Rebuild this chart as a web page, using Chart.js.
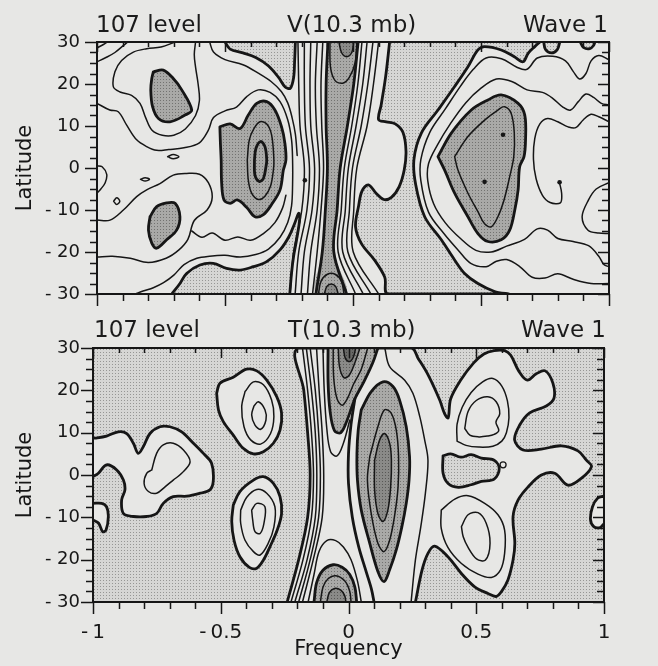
<!DOCTYPE html>
<html>
<head>
<meta charset="utf-8">
<script src="https://cdn.jsdelivr.net/npm/chart.js@4.4.1/dist/chart.umd.min.js"></script>
<style>
  html, body { margin: 0; padding: 0; }
  body { width: 658px; height: 666px; background: #e7e7e5; position: relative; overflow: hidden;
         font-family: "DejaVu Sans", sans-serif; color: #1b1b1b; }
  canvas { position: absolute; left: 0; }
  #top { top: 0; }
  #bot { top: 300px; }
  .hd { position: absolute; font-size: 23px; line-height: 23px; white-space: pre; }
</style>
</head>
<body>
<canvas id="top" width="658" height="320"></canvas>
<canvas id="bot" width="658" height="366"></canvas>
<div class="hd" style="left:96px;top:12.5px">107 level</div>
<div class="hd" style="left:287px;top:12.5px">V(10.3 mb)</div>
<div class="hd" style="right:50px;top:12.5px">Wave 1</div>
<div class="hd" style="left:94px;top:317.5px">107 level</div>
<div class="hd" style="left:288px;top:317.5px">T(10.3 mb)</div>
<div class="hd" style="right:52px;top:317.5px">Wave 1</div>
<script>
// axes
const freqTicks = [-1, -0.5, 0, 0.5, 1];
const freqLabels = ['-\u20091', '-\u20090.5', '0', '0.5', '1'];
const freqMinor = [-0.9, -0.8, -0.7, -0.6, -0.4, -0.3, -0.2, -0.1, 0.1, 0.2, 0.3, 0.4, 0.6, 0.7, 0.8, 0.9];
const latTicks = [-30, -20, -10, 0, 10, 20, 30];
const latLabels = ['- 30', '- 20', '- 10', '0', '10', '20', '30'];
const latMinor = [-27.5, -25, -22.5, -17.5, -15, -12.5, -7.5, -5, -2.5, 2.5, 5, 7.5, 12.5, 15, 17.5, 22.5, 25, 27.5];

// band lines are given as frequency at these latitudes
const bandLat = [30, 20, 10, 0, -10, -20, -30];

// ---- V(10.3 mb) panel: contours as [frequency, latitude] ----
const vBandL1 = [-0.215, -0.212, -0.207, -0.19, -0.2, -0.232, -0.246];
const vBandL2 = [-0.19, -0.19, -0.186, -0.17, -0.18, -0.212, -0.226];
const vBandL3 = [-0.165, -0.168, -0.165, -0.15, -0.16, -0.19, -0.203];
const vBandL4 = [-0.14, -0.147, -0.143, -0.131, -0.14, -0.165, -0.178];
const vBandL5 = [-0.118, -0.125, -0.122, -0.115, -0.125, -0.14, -0.158];
const vDarkL = [-0.098, -0.105, -0.105, -0.1, -0.108, -0.12, -0.145];
const vDarkR = [0.02, 0.003, -0.022, -0.05, -0.062, -0.075, -0.025];
const vBandR1 = [0.035, 0.019, -0.005, -0.034, -0.046, -0.058, 0.01];
const vBandR2 = [0.055, 0.038, 0.012, -0.018, -0.03, -0.04, 0.04];
const vBandR3 = [0.078, 0.058, 0.032, -0.002, -0.014, -0.02, 0.07];
const vBandR4 = [0.1, 0.08, 0.055, 0.015, 0.003, 0.001, 0.1];

const vTopU = [[-0.09, 30], [-0.088, 24], [-0.07, 20.8], [-0.04, 20.2], [-0.015, 21.5], [0.008, 25], [0.015, 30]];
const vTopCore = [[-0.055, 30], [-0.045, 27.5], [-0.025, 26.5], [-0.005, 27.5], [0.003, 30]];
const vBotCore1 = [[-0.135, -30], [-0.125, -27], [-0.1, -25.3], [-0.07, -25.3], [-0.045, -27], [-0.035, -30]];
const vBotCore2 = [[-0.112, -30], [-0.102, -28.2], [-0.085, -27.6], [-0.068, -28.2], [-0.058, -30]];

const vStipTop = [[-0.5, 30], [-0.48, 28.3], [-0.43, 27.4], [-0.38, 26.3], [-0.33, 24.3], [-0.29, 21.5], [-0.265, 19.3], [-0.245, 19.0], [-0.232, 21.5], [-0.228, 25.5], [-0.225, 30]];
const vStipR0 = [[0.143, 30], [0.128, 22], [0.11, 15], [0.1, 11.5], [0.13, 11], [0.165, 10.5], [0.195, 8.5], [0.207, 4], [0.2, -0.5], [0.18, -4.5], [0.15, -7], [0.12, -7.5], [0.09, -6], [0.06, -4], [0.035, -5.5], [0.022, -9], [0.01, -14], [0.033, -18], [0.085, -22], [0.124, -26], [0.137, -30]];
const vStipB0 = [[0.605, -30], [0.553, -29.4], [0.488, -27.5], [0.436, -25.1], [0.397, -21.9], [0.345, -17.1], [0.28, -11.6], [0.245, -4], [0.238, 2], [0.267, 8.3], [0.332, 13.8], [0.397, 19.4], [0.449, 24.1], [0.488, 28.1], [0.514, 28.9], [0.579, 28.1], [0.63, 26.5], [0.664, 25.3], [0.684, 27.3], [0.71, 28.9], [0.73, 30]];
const vStipBot = [[-0.708, -30], [-0.676, -27.5], [-0.65, -25.1], [-0.598, -23.1], [-0.546, -22.7], [-0.494, -23.9], [-0.441, -24.3], [-0.389, -23.5], [-0.337, -22.3], [-0.285, -19.5], [-0.25, -16.3], [-0.228, -13.2], [-0.212, -10.8], [-0.208, -12], [-0.22, -17], [-0.232, -21], [-0.24, -25], [-0.247, -30]];
const vStipP1 = [[0.745, 30], [0.752, 28.2], [0.775, 27.4], [0.798, 28.2], [0.808, 30]];
const vStipP2 = [[0.888, 30], [0.9, 28.7], [0.925, 28.4], [0.94, 29.2], [0.945, 30]];

const vMaxA = [[-0.78, 22.9], [-0.741, 23.3], [-0.702, 21.3], [-0.669, 18.6], [-0.63, 13.8], [-0.656, 12.6], [-0.715, 11.0], [-0.76, 11.8], [-0.783, 14.6], [-0.79, 18.6], [-0.786, 21.3]];
const vMaxB = [[-0.793, -11.6], [-0.767, -9.2], [-0.728, -8.3], [-0.695, -8.4], [-0.676, -11.6], [-0.689, -14.8], [-0.728, -17.1], [-0.767, -19.1], [-0.786, -17.9], [-0.799, -14.8]];
const vMaxC = [[-0.52, 9.8], [-0.48, 10.5], [-0.441, 9.4], [-0.409, 12.6], [-0.376, 15.4], [-0.337, 15.8], [-0.305, 13.8], [-0.279, 9.8], [-0.266, 5.9], [-0.262, 1.9], [-0.272, -0.5], [-0.285, -5.2], [-0.318, -8.7], [-0.35, -11.1], [-0.383, -11.6], [-0.415, -9.4], [-0.452, -7.6], [-0.48, -8.4], [-0.504, -7.6], [-0.513, -3.7], [-0.515, 1.9], [-0.518, 6]];
const vMaxC2 = [[-0.413, 1.9], [-0.405, 6.7], [-0.387, 9.4], [-0.363, 11.0], [-0.337, 10.5], [-0.318, 7.9], [-0.309, 1.9], [-0.311, -0.5], [-0.322, -4.3], [-0.344, -6.7], [-0.37, -7.5], [-0.396, -6.0], [-0.409, -2.9]];
const vMaxC3 = [[-0.385, 1.9], [-0.379, 4.7], [-0.361, 6.3], [-0.344, 5.1], [-0.337, 1.9], [-0.34, 0.3], [-0.35, -2.5], [-0.366, -3.2], [-0.383, -1.7]];
const vMaxD = [[0.332, 2.7], [0.384, 8.3], [0.462, 13.8], [0.527, 16.2], [0.579, 17.4], [0.645, 15.4], [0.671, 12.6], [0.674, 6.7], [0.668, 2.7], [0.651, 0.3], [0.645, -5.2], [0.632, -10], [0.612, -14.8], [0.579, -17.1], [0.527, -17.5], [0.488, -15.6], [0.449, -11.6], [0.397, -6.0], [0.358, -0.5]];
const vMaxD2 = [[0.397, 2.7], [0.449, 7.5], [0.514, 11.4], [0.566, 13.8], [0.592, 14.6], [0.618, 13.0], [0.63, 8.3], [0.628, 2.7], [0.612, -2.1], [0.59, -7.6], [0.566, -11.6], [0.54, -14], [0.514, -13.3], [0.488, -10.4], [0.449, -6.0], [0.41, -0.5]];

const vRight1 = [[1.0, 25.8], [0.96, 26.8], [0.93, 25.5], [0.91, 22.5], [0.885, 21.2], [0.86, 23], [0.83, 25.5], [0.78, 26.6], [0.72, 26.2], [0.68, 23.5], [0.64, 24], [0.58, 26], [0.52, 26.2], [0.47, 23.5], [0.42, 19.5], [0.36, 14], [0.3, 8.5], [0.265, 2], [0.265, -3], [0.295, -10.5], [0.355, -15.6], [0.41, -19.5], [0.46, -22.7], [0.52, -23.5], [0.56, -22.2], [0.6, -21.8], [0.65, -23.4], [0.7, -26], [0.75, -26.2], [0.8, -25.2], [0.86, -26.5], [0.93, -27.5], [1.0, -27.5]];
const vRight2 = [[1.0, 15], [0.97, 15.4], [0.94, 16.8], [0.91, 17.6], [0.88, 15.8], [0.85, 13.8], [0.82, 14.5], [0.78, 16.6], [0.74, 18], [0.68, 18.6], [0.62, 20.6], [0.56, 21.2], [0.5, 19], [0.44, 15.5], [0.38, 10.5], [0.33, 5.5], [0.295, 1], [0.292, -3], [0.315, -8.5], [0.36, -13], [0.42, -16.8], [0.48, -19.6], [0.54, -20], [0.6, -18.6], [0.67, -17], [0.72, -14.5], [0.76, -14.8], [0.8, -16.8], [0.86, -17.5], [0.92, -18.5], [0.96, -21], [0.98, -23], [1.0, -23.5]];
const vRight3 = [[0.807, -3.6], [0.815, -6], [0.81, -8.3], [0.77, -8.2], [0.74, -6.5], [0.715, -2.5], [0.705, 2], [0.71, 7], [0.73, 10.5], [0.76, 11.8], [0.8, 11], [0.84, 9.8], [0.87, 9.6], [0.9, 11.5], [0.93, 12.8], [0.96, 12.2], [1.0, 11]];
const vRight4 = [[1.0, -3.5], [0.95, -5], [0.92, -7.6], [0.895, -11.6], [0.918, -14.8], [0.96, -15.5], [1.0, -15.6]];

const vLeftC0 = [[-1, 28.6], [-0.975, 29.4], [-0.96, 30]];
const vLeftC1 = [[-1, 25.3], [-0.965, 26.3], [-0.93, 27.5], [-0.9, 29], [-0.88, 30]];
const vLeft1 = [[-1, 15.4], [-0.95, 13.8], [-0.917, 13.4], [-0.884, 10.2], [-0.845, 6.7], [-0.806, 5.1], [-0.767, 4.2], [-0.72, 4.4], [-0.66, 4.8], [-0.6, 6], [-0.565, 9], [-0.545, 12], [-0.5, 13.6], [-0.455, 14.5], [-0.415, 17], [-0.37, 18.6], [-0.324, 18], [-0.285, 15.8], [-0.255, 11.5], [-0.24, 6.7], [-0.236, 1.9], [-0.236, -4], [-0.24, -9], [-0.255, -13], [-0.285, -16.5], [-0.33, -19.3], [-0.38, -20.6], [-0.44, -21.2], [-0.5, -20.8], [-0.56, -21], [-0.61, -21.5], [-0.66, -23], [-0.7, -25.5], [-0.74, -27.3], [-0.78, -28.5], [-0.82, -29.3], [-0.85, -30]];
const vLeft2 = [[-0.695, 30], [-0.75, 28.8], [-0.806, 28.4], [-0.858, 27.6], [-0.904, 25.6], [-0.93, 22.9], [-0.936, 19.3], [-0.91, 18.1], [-0.865, 17.3], [-0.832, 15.4], [-0.81, 12], [-0.785, 9], [-0.745, 7.8], [-0.7, 7.8], [-0.655, 9.3], [-0.615, 12.5], [-0.6, 16], [-0.605, 20], [-0.615, 24], [-0.62, 27], [-0.615, 30]];
const vLeft3 = [[-1, -12.4], [-0.949, -12.4], [-0.897, -10], [-0.845, -6.8], [-0.806, -5.2], [-0.754, -3.7], [-0.702, -1.7], [-0.65, -1.3], [-0.6, -1.5], [-0.565, -3.5], [-0.55, -7], [-0.57, -10], [-0.62, -12.5], [-0.645, -17], [-0.68, -19.5], [-0.73, -21.5], [-0.8, -22.5], [-0.87, -21.5], [-0.94, -21], [-1, -21.2]];
const vLeft4 = [[-0.63, -15], [-0.59, -16.5], [-0.55, -15.5], [-0.5, -17.2], [-0.45, -16.4], [-0.4, -17.2], [-0.35, -15.6], [-0.305, -13], [-0.275, -9.5], [-0.262, -6.5]];
const vLeft5 = [[-0.56, 30], [-0.545, 27.6], [-0.5, 25.8], [-0.43, 24.6], [-0.37, 22.6], [-0.32, 20.6], [-0.28, 18.2], [-0.255, 15.5], [-0.238, 12], [-0.225, 8], [-0.218, 3]];
const vSmall1 = [[-0.724, 2.7], [-0.702, 3.2], [-0.68, 2.7], [-0.702, 2.2]];
const vSmall2 = [[-0.83, -2.7], [-0.812, -2.3], [-0.795, -2.7], [-0.812, -3.1]];
const vSmall3 = [[-0.935, -7.9], [-0.923, -7.1], [-0.911, -7.9], [-0.923, -8.7]];
const vEdgeLoop = [[-1, 0.5], [-0.98, 0.3], [-0.962, -1.5], [-0.968, -3.5], [-0.985, -5], [-1, -6]];
const vDots = [[0.586, 7.9], [0.514, -3.3], [0.807, -3.4], [-0.188, -2.9]];

// ---- T(10.3 mb) panel ----
const tBandL1 = [-0.196, -0.175, -0.16, -0.15, -0.16, -0.195, -0.24];
const tBandL2 = [-0.18, -0.16, -0.145, -0.137, -0.145, -0.178, -0.225];
const tBandL3 = [-0.165, -0.145, -0.13, -0.124, -0.13, -0.162, -0.21];
const tBandL4 = [-0.15, -0.13, -0.117, -0.11, -0.117, -0.15, -0.195];
const tBandL5 = [-0.125, -0.115, -0.103, -0.097, -0.103, -0.138, -0.18];

const tWhiteMain = [[0.246, 30], [0.272, 27.6], [0.311, 23.7], [0.357, 17.7], [0.376, 14.5], [0.39, 13.5], [0.4, 18], [0.44, 22.5], [0.49, 26.5], [0.53, 28.6], [0.57, 29.4], [0.611, 29.4], [0.635, 28.3], [0.666, 24.6], [0.7, 22.4], [0.735, 23.9], [0.77, 24.6], [0.8, 21.7], [0.804, 18.1], [0.774, 16.3], [0.709, 14.7], [0.67, 11.8], [0.65, 8.3], [0.683, 5.9], [0.755, 6.1], [0.833, 6.9], [0.898, 5.7], [0.931, 3.5], [0.951, 2.0], [0.911, -0.8], [0.859, -2.4], [0.807, 0.4], [0.755, 0], [0.703, -2.8], [0.664, -5.9], [0.644, -9.8], [0.651, -16.1], [0.644, -20.1], [0.624, -24.8], [0.598, -27.6], [0.578, -28.7], [0.546, -28], [0.494, -26.4], [0.441, -23.2], [0.389, -19.3], [0.337, -16.8], [0.311, -18.5], [0.288, -22.4], [0.262, -30]];
const tWhiteA = [[-1, 8.7], [-0.992, 8.7], [-0.947, 9.2], [-0.901, 10.2], [-0.868, 9.8], [-0.842, 7.5], [-0.823, 5.1], [-0.803, 6.7], [-0.777, 9.8], [-0.738, 11.4], [-0.699, 11.4], [-0.653, 10.2], [-0.607, 7.5], [-0.568, 5.1], [-0.536, 2.8], [-0.529, -1.2], [-0.542, -3.5], [-0.581, -4.3], [-0.633, -5.0], [-0.686, -5.1], [-0.725, -6.7], [-0.751, -9.1], [-0.79, -9.8], [-0.842, -9.8], [-0.881, -9.1], [-0.888, -5.9], [-0.875, -3.5], [-0.881, -1.2], [-0.907, 1.2], [-0.947, 2.4], [-0.979, 0.4], [-1, -0.4]];
const tWhiteA2 = [[-0.77, 1.2], [-0.751, 5.1], [-0.725, 7.1], [-0.686, 7.5], [-0.646, 5.9], [-0.62, 3.1], [-0.653, 0.4], [-0.686, -1.2], [-0.718, -2.8], [-0.751, -4.3], [-0.783, -3.9], [-0.8, -2.0], [-0.79, 0.4]];
const tWhiteB = [[-1, -6.7], [-0.966, -6.7], [-0.947, -7.5], [-0.94, -9.8], [-0.949, -13], [-0.962, -13.4], [-0.978, -11.4], [-1, -10.6]];
const tRingN = [[-0.516, 19.3], [-0.503, 21.7], [-0.451, 23.1], [-0.399, 25.0], [-0.359, 24.6], [-0.32, 22.4], [-0.281, 18.5], [-0.262, 14.6], [-0.268, 10.6], [-0.294, 7.5], [-0.333, 5.5], [-0.372, 5.0], [-0.412, 6.3], [-0.451, 9.4], [-0.49, 12.6], [-0.509, 15.4]];
const tRingN2 = [[-0.405, 19.7], [-0.372, 22.0], [-0.333, 21.3], [-0.301, 17.7], [-0.292, 13.8], [-0.305, 9.8], [-0.344, 7.3], [-0.383, 8.3], [-0.409, 11.4], [-0.418, 16.1]];
const tRingN3 = [[-0.37, 16.3], [-0.353, 17.3], [-0.327, 15.4], [-0.323, 13.0], [-0.344, 10.8], [-0.366, 11.8], [-0.379, 14.2]];
const tRingS = [[-0.451, -7.1], [-0.425, -3.9], [-0.372, -1.2], [-0.333, -0.4], [-0.294, -2.0], [-0.268, -5.1], [-0.262, -9.1], [-0.279, -13.0], [-0.307, -16.9], [-0.333, -20.1], [-0.359, -22.0], [-0.388, -21.8], [-0.425, -19.3], [-0.448, -15.4], [-0.457, -11.0]];
const tRingS2 = [[-0.422, -8.3], [-0.399, -5.3], [-0.359, -3.4], [-0.32, -4.3], [-0.288, -7.5], [-0.292, -12.3], [-0.314, -16.1], [-0.346, -18.9], [-0.372, -18.1], [-0.405, -15.4], [-0.422, -11.4]];
const tRingS3 = [[-0.379, -8.3], [-0.359, -6.7], [-0.327, -7.5], [-0.331, -11.4], [-0.346, -13.8], [-0.366, -13.4], [-0.375, -10.6]];
const tWhiteEdge = [[1, -5], [0.975, -5.5], [0.955, -7.5], [0.947, -10.5], [0.96, -12.2], [0.985, -12.4], [1, -11.5]];
const tStipMid = [[0.37, 4.5], [0.4, 5], [0.44, 4.2], [0.48, 4.8], [0.52, 4], [0.57, 3.5], [0.59, 1.5], [0.57, -1], [0.52, -1.5], [0.48, -2.3], [0.43, -2.9], [0.39, -2], [0.37, 0.5]];
const tRingNE = [[0.425, 8], [0.425, 12], [0.445, 16], [0.48, 19.5], [0.525, 22], [0.565, 22.8], [0.6, 21], [0.622, 17.5], [0.628, 13.5], [0.618, 10], [0.6, 8], [0.565, 6.8], [0.51, 6.6], [0.46, 7]];
const tRingNE2 = [[0.455, 11], [0.468, 15], [0.5, 17.6], [0.545, 18.5], [0.578, 17.3], [0.592, 14.5], [0.577, 12.5], [0.588, 10.5], [0.57, 9.6], [0.545, 9.2], [0.51, 9], [0.475, 9.4]];
const tRingSE = [[0.363, -8.3], [0.416, -5.7], [0.468, -4.9], [0.533, -6.7], [0.585, -9.4], [0.611, -13], [0.611, -18.5], [0.595, -22.4], [0.559, -24.2], [0.507, -23.4], [0.442, -20.9], [0.389, -17.1], [0.363, -12.6]];
const tRingSE2 = [[0.442, -12.2], [0.468, -9.4], [0.507, -8.9], [0.539, -11.4], [0.554, -16.1], [0.536, -20.1], [0.501, -19.8], [0.468, -17.1], [0.449, -14.6]];

const tTop0 = [[-0.1, 30], [-0.095, 20], [-0.085, 11], [-0.07, 5.5], [-0.045, 4.5], [-0.02, 7.5], [0.005, 13]];
const tTop1 = [[-0.08, 30], [-0.08, 22], [-0.072, 15], [-0.055, 10.5], [-0.03, 10], [-0.005, 13], [0.025, 18], [0.06, 22], [0.095, 26.5], [0.115, 30]];
const tTop2 = [[-0.06, 30], [-0.058, 23], [-0.045, 18], [-0.025, 16.5], [-0.005, 18], [0.02, 21.5], [0.05, 25], [0.075, 30]];
const tTop3 = [[-0.04, 30], [-0.035, 25.5], [-0.018, 23], [0.002, 23.5], [0.025, 26.5], [0.045, 30]];
const tTop4 = [[-0.02, 30], [-0.012, 27.5], [0.005, 26.8], [0.02, 28], [0.028, 30]];
const tBot0 = [[-0.158, -30], [-0.135, -23.5], [-0.115, -18], [-0.085, -15.5], [-0.05, -15.5], [-0.02, -17], [0.01, -20], [0.035, -25], [0.05, -30]];
const tBot1 = [[-0.135, -30], [-0.125, -25.5], [-0.1, -22.5], [-0.06, -21.2], [-0.025, -21.8], [0.005, -23.5], [0.025, -26.5], [0.032, -30]];
const tBot2 = [[-0.11, -30], [-0.1, -26.5], [-0.08, -24.5], [-0.05, -23.8], [-0.015, -25], [0.005, -27.5], [0.01, -30]];
const tBot3 = [[-0.085, -30], [-0.075, -27.8], [-0.055, -26.8], [-0.03, -27.2], [-0.015, -28.5], [-0.01, -30]];
const tSplit = [[0.025, 18], [0.01, 12], [0.0, 5], [0.0, -2], [0.015, -10], [0.04, -17], [0.07, -23], [0.09, -27], [0.1, -30]];
const tEll1 = [[0.05, 15.4], [0.089, 19.7], [0.135, 22.0], [0.174, 20.9], [0.2, 17.7], [0.226, 11.4], [0.239, 4.3], [0.237, -1.2], [0.226, -6.7], [0.209, -12.2], [0.187, -17.7], [0.161, -22.4], [0.139, -25.2], [0.115, -22.8], [0.083, -16.1], [0.05, -8.3], [0.035, -1.2], [0.033, 5], [0.038, 10.6]];
const tEll2 = [[0.083, 4.3], [0.115, 11.4], [0.141, 15.4], [0.167, 14.6], [0.187, 10.6], [0.196, 4.3], [0.194, -2.8], [0.18, -9.8], [0.161, -15.4], [0.139, -18.1], [0.115, -16.1], [0.089, -9.1], [0.074, -1.2]];
const tEll3 = [[0.102, 3.5], [0.122, 8.3], [0.141, 9.8], [0.161, 7.5], [0.168, 3.5], [0.165, -2.8], [0.154, -8.3], [0.135, -11.0], [0.115, -9.1], [0.102, -3.5]];
const tOuter1 = [[0.142, 30], [0.161, 25.6], [0.22, 22.4], [0.252, 19.3], [0.279, 13.8], [0.298, 8.3], [0.311, 3.5], [0.301, -4.3], [0.283, -12.2], [0.262, -20], [0.245, -30]];
const tRingDot = [[0.605, 2.4]];

const INK = '#161616';
const PAPER = '#e7e7e5';
const FONT = '"DejaVu Sans", sans-serif';

function tile(base, dot) {
  const c = document.createElement('canvas');
  c.width = 3; c.height = 3;
  const g = c.getContext('2d');
  g.fillStyle = base; g.fillRect(0, 0, 3, 3);
  g.fillStyle = dot; g.fillRect(1, 1, 1, 1);
  return g.createPattern(c, 'repeat');
}
const FILLS = {
  stip: tile('#d6d6d4', '#969694'),
  dark: tile('#a9a9a7', '#727270'),
  darker: tile('#8a8a88', '#585856'),
  darkest: tile('#686866', '#424240'),
  white: PAPER
};

const alongLat = xs => bandLat.map((y, i) => [xs[i], y]);
const closeRing = pts => pts.concat([pts[0]]);

function layer(pts, fill, line) {
  return {
    data: pts.map(([x, y]) => ({x, y})),
    showLine: true,
    pointRadius: 0,
    tension: 0.35,
    borderColor: line === 'none' ? 'rgba(0,0,0,0)' : INK,
    borderWidth: line === 'thick' ? 2.8 : 1.5,
    borderJoinStyle: 'round',
    borderCapStyle: 'round',
    fill: fill ? 'shape' : false,
    backgroundColor: fill ? FILLS[fill] : 'rgba(0,0,0,0)'
  };
}

function dots(pts, hollow) {
  return {
    data: pts.map(([x, y]) => ({x, y})),
    showLine: false,
    pointRadius: hollow ? 3 : 2.3,
    pointBackgroundColor: hollow ? 'rgba(0,0,0,0)' : INK,
    pointBorderColor: INK,
    pointBorderWidth: hollow ? 1.3 : 0
  };
}

// first entry is painted first (bottom)
function stack(list) {
  const n = list.length;
  return list.map((d, i) => Object.assign(d, {order: n - i}));
}

const marks = {
  id: 'marks',
  beforeDatasetsDraw(chart, args, o) {
    if (!o.bg) return;
    const a = chart.chartArea;
    chart.ctx.save();
    chart.ctx.fillStyle = FILLS[o.bg];
    chart.ctx.fillRect(a.left, a.top, a.width, a.height);
    chart.ctx.restore();
  },
  afterDraw(chart) {
    const {ctx, chartArea: a, scales: {x, y}} = chart;
    ctx.save();
    ctx.strokeStyle = INK;
    ctx.lineWidth = 1.5;
    ctx.beginPath();
    const vt = (v, y0, len) => {
      const p = Math.round(x.getPixelForValue(v)) + 0.5;
      ctx.moveTo(p, y0); ctx.lineTo(p, y0 + len);
    };
    const ht = (v, x0, len) => {
      const p = Math.round(y.getPixelForValue(v)) + 0.5;
      ctx.moveTo(x0, p); ctx.lineTo(x0 + len, p);
    };
    freqTicks.forEach(v => { vt(v, a.bottom, 12); vt(v, a.top, 10); });
    freqMinor.forEach(v => { vt(v, a.bottom, 7); vt(v, a.top, 5); });
    latTicks.forEach(v => { ht(v, a.left, -12); ht(v, a.right, -11); });
    latMinor.forEach(v => { ht(v, a.left, -7); ht(v, a.right, -7); });
    ctx.stroke();
    ctx.lineWidth = 2;
    ctx.strokeRect(a.left, a.top, a.width, a.height);
    ctx.restore();
  }
};

function scales(o) {
  return {
    x: {
      type: 'linear', min: -1, max: 1,
      afterBuildTicks: s => { s.ticks = freqTicks.map(v => ({value: v})); },
      grid: {display: false, drawTicks: true, tickLength: 12},
      border: {display: false},
      ticks: {display: o.xLabels, color: INK, font: {family: FONT, size: 20}, padding: 7,
              maxRotation: 0, autoSkip: false, callback: (v, i) => freqLabels[i]},
      title: {display: o.xLabels, text: 'Frequency', color: INK, font: {family: FONT, size: 21},
              padding: {top: 0, bottom: 4}},
      afterFit: s => { s.height = o.xh; }
    },
    y: {
      type: 'linear', min: -30, max: 30,
      afterBuildTicks: s => { s.ticks = latTicks.map(v => ({value: v})); },
      grid: {display: false, drawTicks: true, tickLength: 12},
      border: {display: false},
      ticks: {color: INK, font: {family: FONT, size: 18}, padding: o.ypad, autoSkip: false,
              callback: (v, i) => latLabels[i]},
      title: {display: true, text: 'Latitude', color: INK, font: {family: FONT, size: 21},
              padding: {top: 13, bottom: 0}},
      afterFit: s => { s.width = o.yw; }
    }
  };
}

function makeChart(id, datasets, o) {
  return new Chart(document.getElementById(id), {
    type: 'scatter',
    data: {datasets},
    options: {
      responsive: false,
      animation: false,
      events: [],
      devicePixelRatio: 1,
      layout: {padding: o.pad},
      plugins: {legend: {display: false}, tooltip: {enabled: false}, marks: {bg: o.bg}},
      scales: scales(o)
    },
    plugins: [marks]
  });
}

// ---- V panel layers ----
const vBandDark = alongLat(vDarkL).concat(alongLat(vDarkR).reverse());
const vDatasets = stack([
  layer(vStipTop, 'stip', 'thick'),
  layer(vStipR0.concat(vStipB0), 'stip', 'thick'),
  layer(vStipBot, 'stip', 'thick'),
  layer(vStipP1, 'stip', 'thick'),
  layer(vStipP2, 'stip', 'thick'),
  layer(vBandDark, 'dark', 'none'),
  layer(vTopU, null, 'thin'),
  layer(vTopCore, 'darker', 'thin'),
  layer(vBotCore1, null, 'thin'),
  layer(vBotCore2, 'darker', 'thin'),
  layer(closeRing(vMaxA), 'dark', 'thick'),
  layer(closeRing(vMaxB), 'dark', 'thick'),
  layer(closeRing(vMaxC), 'dark', 'thick'),
  layer(closeRing(vMaxC2), null, 'thin'),
  layer(closeRing(vMaxC3), null, 'thick'),
  layer(closeRing(vMaxD), 'dark', 'thick'),
  layer(closeRing(vMaxD2), null, 'thin'),
  layer(alongLat(vBandL1), null, 'thin'),
  layer(alongLat(vBandL2), null, 'thin'),
  layer(alongLat(vBandL3), null, 'thin'),
  layer(alongLat(vBandL4), null, 'thin'),
  layer(alongLat(vBandL5), null, 'thin'),
  layer(alongLat(vDarkL), null, 'thick'),
  layer(alongLat(vDarkR), null, 'thick'),
  layer(alongLat(vBandR1), null, 'thin'),
  layer(alongLat(vBandR2), null, 'thin'),
  layer(alongLat(vBandR3), null, 'thin'),
  layer(alongLat(vBandR4), null, 'thin'),
  layer(vRight1, null, 'thin'),
  layer(vRight2, null, 'thin'),
  layer(vRight3, null, 'thin'),
  layer(vRight4, null, 'thin'),
  layer(vLeftC0, null, 'thin'),
  layer(vLeftC1, null, 'thin'),
  layer(vLeft1, null, 'thin'),
  layer(vLeft2, null, 'thin'),
  layer(vLeft3, null, 'thin'),
  layer(vLeft4, null, 'thin'),
  layer(vLeft5, null, 'thin'),
  layer(closeRing(vSmall1), null, 'thin'),
  layer(closeRing(vSmall2), null, 'thin'),
  layer(closeRing(vSmall3), null, 'thin'),
  layer(vEdgeLoop, null, 'thin'),
  dots(vDots, false)
]);

// ---- T panel layers ----
// white area: up the left band edge, then round the right-hand lobes, back along the bottom
const tWhiteBig = alongLat(tBandL1).reverse().concat(tWhiteMain);
const tDatasets = stack([
  layer(tWhiteBig, 'white', 'thick'),
  layer(tWhiteA, 'white', 'thick'),
  layer(tWhiteB, 'white', 'thick'),
  layer(closeRing(tRingN), 'white', 'thick'),
  layer(closeRing(tRingS), 'white', 'thick'),
  layer(tWhiteEdge, 'white', 'thick'),
  layer(closeRing(tStipMid), 'stip', 'thick'),
  layer(tTop1, 'dark', 'thick'),
  layer(tTop2, null, 'thin'),
  layer(tTop3, 'darker', 'thin'),
  layer(tTop4, 'darkest', 'thin'),
  layer(closeRing(tEll1), 'dark', 'thick'),
  layer(closeRing(tEll2), null, 'thin'),
  layer(closeRing(tEll3), 'darker', 'thin'),
  layer(tBot1, 'dark', 'thick'),
  layer(tBot2, null, 'thin'),
  layer(tBot3, 'darker', 'thin'),
  layer(alongLat(tBandL2), null, 'thin'),
  layer(alongLat(tBandL3), null, 'thin'),
  layer(alongLat(tBandL4), null, 'thin'),
  layer(alongLat(tBandL5), null, 'thin'),
  layer(tTop0, null, 'thin'),
  layer(tBot0, null, 'thin'),
  layer(tSplit, null, 'thick'),
  layer(tOuter1, null, 'thin'),
  layer(closeRing(tWhiteA2), null, 'thin'),
  layer(closeRing(tRingN2), null, 'thin'),
  layer(closeRing(tRingN3), null, 'thin'),
  layer(closeRing(tRingS2), null, 'thin'),
  layer(closeRing(tRingS3), null, 'thin'),
  layer(closeRing(tRingNE), null, 'thin'),
  layer(closeRing(tRingNE2), null, 'thin'),
  layer(closeRing(tRingSE), null, 'thin'),
  layer(closeRing(tRingSE2), null, 'thin'),
  dots(tRingDot, true)
]);

makeChart('top', vDatasets, {
  pad: {left: 0, top: 42, right: 49, bottom: 16}, xh: 10, yw: 97, ypad: 5, xLabels: false, bg: null
});
makeChart('bot', tDatasets, {
  pad: {left: 0, top: 48, right: 54, bottom: 0}, xh: 64, yw: 93, ypad: 1, xLabels: true, bg: 'stip'
});
</script>
</body>
</html>
